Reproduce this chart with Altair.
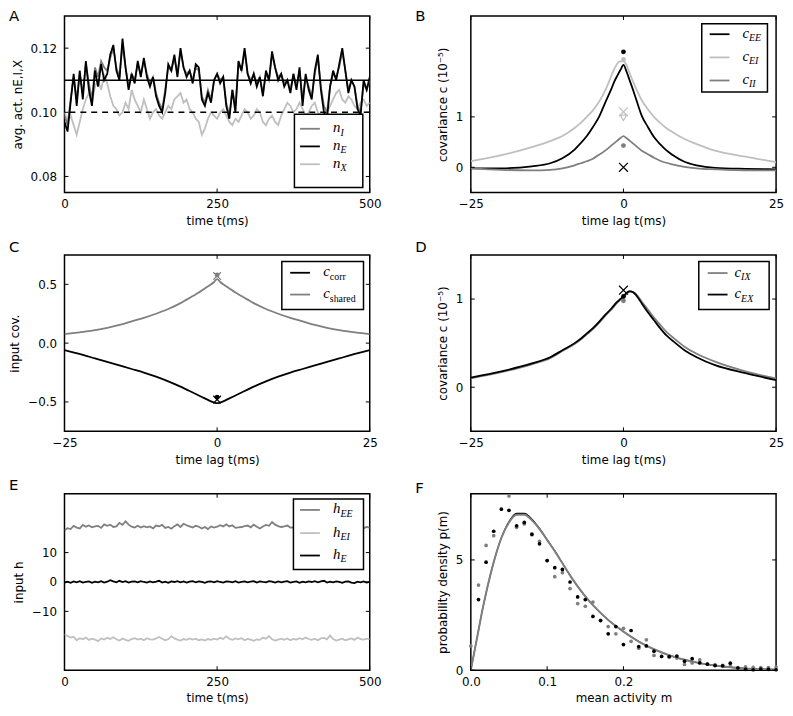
import altair as alt
import pandas as pd

# ---------------- data ----------------
# Panel A: average activities, sampled every 5 ms over 0..500 ms
A_nE = [0.097, 0.094, 0.103, 0.112, 0.102, 0.113, 0.104, 0.116, 0.107, 0.102,
        0.113, 0.108, 0.115, 0.110, 0.112, 0.118, 0.121, 0.113, 0.110, 0.123,
        0.114, 0.107, 0.112, 0.109, 0.116, 0.111, 0.117, 0.111, 0.108, 0.111,
        0.105, 0.102, 0.100, 0.106, 0.115, 0.113, 0.118, 0.111, 0.120, 0.114,
        0.111, 0.113, 0.109, 0.115, 0.114, 0.104, 0.102, 0.106, 0.103, 0.110,
        0.112, 0.109, 0.111, 0.102, 0.098, 0.107, 0.100, 0.116, 0.113, 0.120,
        0.112, 0.109, 0.112, 0.108, 0.111, 0.105, 0.113, 0.110, 0.119, 0.114,
        0.110, 0.112, 0.108, 0.110, 0.106, 0.112, 0.107, 0.114, 0.102, 0.112,
        0.107, 0.104, 0.113, 0.118, 0.107, 0.100, 0.098, 0.108, 0.113, 0.110,
        0.115, 0.120, 0.113, 0.106, 0.110, 0.108, 0.101, 0.099, 0.110, 0.107,
        0.111]
A_nI = [0.099, 0.096, 0.104, 0.111, 0.104, 0.112, 0.106, 0.115, 0.109, 0.104,
        0.114, 0.111, 0.116, 0.114, 0.113, 0.117, 0.120, 0.114, 0.111, 0.121,
        0.114, 0.108, 0.112, 0.110, 0.115, 0.112, 0.116, 0.112, 0.109, 0.111,
        0.106, 0.103, 0.101, 0.107, 0.114, 0.113, 0.117, 0.112, 0.119, 0.114,
        0.112, 0.113, 0.110, 0.114, 0.113, 0.105, 0.103, 0.107, 0.104, 0.110,
        0.112, 0.110, 0.111, 0.103, 0.099, 0.107, 0.102, 0.115, 0.113, 0.119,
        0.112, 0.110, 0.112, 0.109, 0.111, 0.106, 0.112, 0.110, 0.118, 0.114,
        0.111, 0.112, 0.109, 0.110, 0.107, 0.112, 0.108, 0.113, 0.104, 0.111,
        0.108, 0.105, 0.112, 0.117, 0.108, 0.102, 0.100, 0.108, 0.112, 0.111,
        0.114, 0.119, 0.113, 0.107, 0.110, 0.108, 0.102, 0.100, 0.109, 0.107,
        0.110]
A_nX = [0.100, 0.097, 0.099, 0.096, 0.093, 0.097, 0.101, 0.104, 0.106, 0.103,
        0.108, 0.110, 0.107, 0.112, 0.109, 0.105, 0.102, 0.101, 0.099, 0.100,
        0.103, 0.101, 0.107, 0.104, 0.102, 0.100, 0.104, 0.101, 0.098, 0.100,
        0.101, 0.099, 0.098, 0.100, 0.102, 0.101, 0.104, 0.105, 0.106, 0.103,
        0.104, 0.101, 0.100, 0.098, 0.097, 0.093, 0.095, 0.098, 0.100, 0.099,
        0.098, 0.100, 0.101, 0.099, 0.097, 0.096, 0.098, 0.097, 0.099, 0.101,
        0.100, 0.098, 0.099, 0.101, 0.100, 0.097, 0.096, 0.098, 0.099, 0.097,
        0.096, 0.099, 0.101, 0.103, 0.102, 0.100, 0.101, 0.103, 0.101, 0.099,
        0.100, 0.102, 0.103, 0.100, 0.099, 0.098, 0.100, 0.102, 0.104, 0.106,
        0.107, 0.104, 0.103, 0.105, 0.104, 0.102, 0.101, 0.103, 0.104, 0.102,
        0.103]
A_mean_E = [0.11]
A_mean_X = [0.10]

# Panel B: covariances vs time lag
B_lag = [-25, -20, -15, -12, -10, -8, -7, -6, -5, -4, -3, -2, -1.5, -1, -0.5, 0,
         0.5, 1, 1.5, 2, 3, 4, 5, 6, 7, 8, 10, 12, 15, 20, 25]
B_cEE = [-0.02, -0.02, 0.02, 0.08, 0.18, 0.35, 0.48, 0.62, 0.80, 1.00, 1.28, 1.55, 1.70, 1.82, 1.93, 2.03,
         1.90, 1.73, 1.56, 1.38, 1.02, 0.80, 0.60, 0.46, 0.34, 0.25, 0.11, 0.04, -0.01, -0.03, -0.04]
B_cEI = [0.12, 0.24, 0.40, 0.52, 0.62, 0.78, 0.88, 1.00, 1.13, 1.30, 1.52, 1.81, 1.95, 2.06, 2.10, 2.10,
         2.03, 1.87, 1.72, 1.58, 1.33, 1.15, 1.00, 0.88, 0.78, 0.70, 0.56, 0.46, 0.33, 0.21, 0.10]
B_cII = [-0.02, -0.05, -0.06, -0.05, -0.02, 0.04, 0.08, 0.12, 0.17, 0.25, 0.33, 0.43, 0.48, 0.53, 0.58, 0.62,
         0.58, 0.53, 0.48, 0.43, 0.33, 0.26, 0.19, 0.13, 0.09, 0.06, 0.01, -0.02, -0.04, -0.06, -0.06]
B_dot_EE, B_dot_EI, B_dot_II = [2.29], [2.14], [0.43]
B_cross_EE, B_cross_EI = [0.0], [1.1]
B_plus_EI = [0.98]

# Panel C: input covariances
C_lag = [-25, -22, -20, -18, -16, -14, -12, -10, -8, -6, -5, -4, -3, -2, -1, -0.5, 0,
         0.5, 1, 2, 3, 4, 5, 6, 8, 10, 12, 14, 16, 18, 20, 22, 25]
C_shared = [0.076, 0.095, 0.11, 0.13, 0.155, 0.185, 0.215, 0.25, 0.29, 0.34, 0.37, 0.40, 0.43, 0.465,
            0.50, 0.52, 0.545,
            0.52, 0.50, 0.465, 0.43, 0.40, 0.37, 0.34, 0.29, 0.25, 0.215, 0.185, 0.155, 0.13, 0.11,
            0.095, 0.076]
C_corr = [-0.06, -0.10, -0.13, -0.16, -0.19, -0.22, -0.25, -0.285, -0.325, -0.37, -0.395, -0.42,
          -0.445, -0.47, -0.495, -0.505, -0.51,
          -0.505, -0.495, -0.47, -0.445, -0.42, -0.395, -0.37, -0.325, -0.285, -0.25, -0.22, -0.19,
          -0.16, -0.13, -0.10, -0.06]
C_dot_shared, C_cross_shared = [0.58], [0.57]
C_dot_corr, C_cross_corr = [-0.46], [-0.48]

# Panel D: covariances with external input
D_lag = [-25, -20, -15, -12, -10, -8, -7, -6, -5, -4, -3, -2, -1, -0.5, 0,
         0.5, 1, 1.5, 2, 3, 4, 5, 6, 7, 8, 10, 12, 15, 20, 25]
D_cEX = [0.11, 0.18, 0.27, 0.34, 0.42, 0.50, 0.55, 0.61, 0.67, 0.74, 0.82, 0.89, 0.97, 1.00, 1.03,
         1.07, 1.09, 1.08, 1.05, 0.95, 0.85, 0.76, 0.67, 0.59, 0.53, 0.42, 0.34, 0.25, 0.16, 0.08]
D_cIX = [0.10, 0.17, 0.26, 0.33, 0.41, 0.49, 0.54, 0.60, 0.66, 0.73, 0.81, 0.88, 0.96, 0.99, 1.02,
         1.06, 1.08, 1.08, 1.06, 0.97, 0.88, 0.79, 0.71, 0.63, 0.57, 0.46, 0.38, 0.29, 0.18, 0.10]
D_cross_EX, D_dot_EX, D_dot_IX = [1.10], [1.03], [0.98]

# Panel E: inputs, sampled every 5 ms over 0..500 ms
E_hEE = [17.6, 18.3, 18.0, 19.1, 18.5, 18.2, 19.4, 18.8, 19.2, 18.6,
         18.9, 19.1, 18.4, 19.6, 19.1, 19.5, 18.7, 18.9, 20.1, 19.4,
         20.6, 19.5, 18.8, 18.5, 19.1, 18.5, 19.0, 18.6, 18.9, 18.2,
         19.2, 18.9, 19.4, 18.4, 18.7, 18.1, 19.0, 19.6, 18.7, 19.8,
         19.3, 18.9, 18.5, 19.1, 18.8, 18.2, 18.7, 18.0, 18.9, 18.5,
         18.8, 19.3, 18.9, 19.6, 18.9, 19.3, 18.4, 18.6, 18.7, 19.0,
         19.2, 18.6, 19.5, 18.8, 18.2, 18.9, 19.4, 19.1, 20.4, 19.5,
         19.0, 18.7, 18.9, 19.2, 18.5, 18.6, 18.3, 18.8, 19.0, 18.4,
         19.1, 18.9, 18.2, 18.7, 19.0, 18.5, 19.8, 19.2, 18.7, 19.1,
         18.5, 18.9, 18.6, 18.2, 18.8, 19.4, 18.7, 18.9, 18.3, 18.7,
         18.5]
E_hEI = [-17.8, -18.4, -18.9, -18.6, -19.8, -19.1, -19.5, -18.9, -19.7, -19.3,
         -19.6, -20.1, -19.2, -19.6, -19.0, -19.4, -18.8, -19.5, -19.9, -19.2,
         -19.7, -20.0, -19.4, -19.1, -19.6, -19.3, -19.8, -19.1, -19.5, -19.6,
         -19.2, -18.7, -19.3, -19.8, -19.5, -18.4, -19.2, -19.6, -19.9, -19.4,
         -19.7, -19.2, -19.6, -19.3, -19.8, -19.5, -19.9, -19.4, -19.7, -19.3,
         -19.6, -19.0, -19.4, -18.5, -19.3, -19.7, -19.2, -19.5, -19.1, -19.8,
         -19.4, -19.6, -20.0, -19.5, -19.7, -18.9, -19.3, -18.4, -19.5, -19.9,
         -19.6, -19.3, -19.7, -19.2, -19.8, -19.4, -19.6, -19.1, -19.5, -18.9,
         -19.4, -19.7, -19.3, -19.8, -19.2, -19.0, -19.5, -18.2, -19.4, -19.9,
         -19.6, -19.3, -19.8, -19.5, -19.2, -19.7, -18.9, -19.4, -19.6, -19.3,
         -19.5]
E_hE = [-0.2, 0.1, -0.3, 0.2, -0.1, 0.3, -0.2, 0.0, 0.2, -0.3,
        0.1, -0.1, 0.3, -0.2, 0.1, 0.6, 0.2, -0.1, 0.4, 0.0,
        0.3, -0.2, 0.1, 0.2, -0.1, 0.3, 0.0, -0.2, 0.2, -0.1,
        0.1, 0.4, -0.2, 0.1, -0.3, 0.2, 0.0, 0.3, -0.1, 0.2,
        -0.2, 0.1, 0.3, -0.1, 0.2, 0.0, -0.3, 0.1, 0.2, -0.1,
        0.3, 0.0, -0.2, 0.2, 0.1, -0.1, 0.3, -0.2, 0.0, 0.2,
        -0.1, 0.1, 0.3, -0.2, 0.2, 0.0, -0.1, 0.3, 0.1, -0.2,
        0.2, -0.1, 0.1, 0.3, -0.2, 0.0, 0.2, -0.3, 0.1, -0.1,
        0.2, 0.0, 0.3, -0.1, 0.2, 0.4, -0.2, 0.1, -0.1, 0.2,
        0.0, -0.3, 0.1, 0.2, -0.2, -0.4, 0.1, -0.1, 0.2, -0.2,
        0.0]

# Panel F: probability density of mean activity
F_m_curve = [0, 0.005, 0.01, 0.015, 0.02, 0.03, 0.04, 0.05, 0.06, 0.07, 0.08, 0.09, 0.10,
             0.11, 0.12, 0.13, 0.14, 0.15, 0.16, 0.17, 0.18, 0.19, 0.20, 0.22, 0.24, 0.26,
             0.28, 0.30, 0.32, 0.34, 0.36, 0.38, 0.40]
F_p_gray = [0, 0.9, 1.8, 2.7, 3.5, 4.9, 6.0, 6.7, 7.05, 7.05, 6.8, 6.4, 5.9,
            5.4, 4.85, 4.3, 3.8, 3.35, 2.95, 2.6, 2.28, 2.0, 1.75, 1.3, 0.95, 0.68,
            0.47, 0.32, 0.21, 0.13, 0.08, 0.05, 0.03]
F_p_black = [0, 0.9, 1.8, 2.7, 3.5, 4.9, 6.0, 6.74, 7.11, 7.11, 6.85, 6.43, 5.92,
             5.41, 4.86, 4.3, 3.8, 3.35, 2.95, 2.6, 2.28, 2.0, 1.75, 1.3, 0.95, 0.68,
             0.47, 0.32, 0.21, 0.13, 0.08, 0.05, 0.03]
F_m_pts = [0.00, 0.01, 0.02, 0.03, 0.04, 0.05, 0.06, 0.07, 0.08, 0.09, 0.10,
           0.11, 0.12, 0.13, 0.14, 0.15, 0.16, 0.17, 0.18, 0.19, 0.20,
           0.21, 0.22, 0.23, 0.24, 0.25, 0.26, 0.27, 0.28, 0.29, 0.30,
           0.31, 0.32, 0.33, 0.34, 0.35, 0.36, 0.37, 0.38, 0.39, 0.40]
F_pts_black = [None, 3.2, 4.9, 6.3, 7.3, 7.25, 6.55, 6.7, 6.17, 5.73, 4.97,
               4.65, 4.57, 4.0, 3.32, 3.2, 2.44, 2.25, 1.65, 1.98, 1.16,
               1.8, 1.07, 1.1, 0.86, 0.62, 0.62, 0.64, 0.41, 0.52, 0.33,
               0.27, 0.21, 0.2, 0.32, 0.1, 0.04, 0.02, 0.05, 0.04, 0.02]
F_pts_gray = [1.1, 3.86, 5.66, 6.1, None, 7.9, 6.48, 6.63, 6.14, 5.84, 4.97,
              4.24, 4.42, 3.7, 3.02, 2.9, 3.09, 2.26, 1.98, 1.65, 1.9,
              1.31, 1.0, 1.38, 0.67, 0.64, 0.59, 0.55, 0.26, 0.33, 0.47,
              0.3, 0.25, 0.22, 0.18, 0.12, 0.15, 0.13, 0.12, 0.12, 0.14]

# ---------------- styling helpers ----------------
W, H = 308, 178
FONT = "DejaVu Sans"
MATH = "Liberation Serif"
BLACK, GRAY, LIGHT = "#000000", "#7f7f7f", "#bfbfbf"
ONE = pd.DataFrame({"k": [0]})
XPATH = "M -1 -1 L 1 1 M -1 1 L 1 -1"
LW = 1.8


class Frame:
    def __init__(self, xdom, ydom, xticks, yticks, xtitle, ytitle, xfmt=None, yfmt=None):
        self.xdom, self.ydom = xdom, ydom
        self.xticks, self.yticks = xticks, yticks
        self.xtitle, self.ytitle = xtitle, ytitle
        self.xfmt, self.yfmt = xfmt, yfmt

    @staticmethod
    def _axis(values, title, fmt, pad):
        kw = dict(values=values, title=title, ticks=False, domain=False, grid=False,
                  labelFont=FONT, labelFontSize=12, labelColor="black", labelPadding=pad,
                  labelFlush=False, labelOverlap=False,
                  titleFont=FONT, titleFontSize=12, titleFontWeight="normal",
                  titleColor="black", titlePadding=6)
        if fmt:
            kw["format"] = fmt
        return alt.Axis(**kw)

    def x(self, field):
        return alt.X(f"{field}:Q", scale=alt.Scale(domain=self.xdom, nice=False, zero=False),
                     axis=self._axis(self.xticks, self.xtitle, self.xfmt, 6))

    def y(self, field):
        return alt.Y(f"{field}:Q", scale=alt.Scale(domain=self.ydom, nice=False, zero=False),
                     axis=self._axis(self.yticks, self.ytitle, self.yfmt, 8))

    def ticks(self):
        dx = pd.DataFrame({"tx": self.xticks})
        dy = pd.DataFrame({"ty": self.yticks})
        L = 4
        r = dict(color="black", strokeWidth=1)
        return [
            alt.Chart(dx).mark_rule(**r).encode(x=self.x("tx"), y=alt.value(0), y2=alt.value(L)),
            alt.Chart(dx).mark_rule(**r).encode(x=self.x("tx"), y=alt.value(H - L), y2=alt.value(H)),
            alt.Chart(dy).mark_rule(**r).encode(y=self.y("ty"), x=alt.value(0), x2=alt.value(L)),
            alt.Chart(dy).mark_rule(**r).encode(y=self.y("ty"), x=alt.value(W - L), x2=alt.value(W)),
        ]


def line(fr, xs, ys, color, width=LW, dash=None, smooth=False):
    df = pd.DataFrame({"xv": xs, "yv": ys})
    kw = dict(color=color, strokeWidth=width, clip=True)
    if dash:
        kw["strokeDash"] = dash
    if smooth:
        kw["interpolate"] = "monotone"
    return alt.Chart(df).mark_line(**kw).encode(x=fr.x("xv"), y=fr.y("yv"))


def dots(fr, xs, ys, color, size=24):
    df = pd.DataFrame({"xv": xs, "yv": ys}).dropna()
    return alt.Chart(df).mark_circle(color=color, size=size, opacity=1).encode(x=fr.x("xv"), y=fr.y("yv"))


def crosses(fr, xs, ys, color, shape=XPATH, size=80):
    df = pd.DataFrame({"xv": xs, "yv": ys})
    return alt.Chart(df).mark_point(shape=shape, size=size, filled=False, color=color,
                                    strokeWidth=1.2, opacity=1).encode(x=fr.x("xv"), y=fr.y("yv"))


def letter(txt, dy):
    return alt.Chart(ONE).mark_text(text=txt, font=FONT, fontSize=15, align="left",
                                    baseline="alphabetic", color="black").encode(
        x=alt.value(-56), y=alt.value(dy))


def legend(box, entries, line_x, text_x, main_w):
    x1, y1, x2, y2 = box
    out = [alt.Chart(ONE).mark_rect(fill="white", stroke="black", strokeWidth=1.5).encode(
        x=alt.value(x1), x2=alt.value(x2), y=alt.value(y1), y2=alt.value(y2))]
    for (yy, color, main, sub, sub_italic) in entries:
        out.append(alt.Chart(ONE).mark_rule(color=color, strokeWidth=LW).encode(
            x=alt.value(line_x[0]), x2=alt.value(line_x[1]), y=alt.value(yy)))
        out.append(alt.Chart(ONE).mark_text(text=main, font=MATH, fontStyle="italic", fontSize=15,
                                            align="left", baseline="alphabetic", color="black").encode(
            x=alt.value(text_x), y=alt.value(yy + 3.5)))
        out.append(alt.Chart(ONE).mark_text(text=sub, font=MATH,
                                            fontStyle="italic" if sub_italic else "normal",
                                            fontSize=10, align="left", baseline="alphabetic",
                                            color="black").encode(
            x=alt.value(text_x + main_w), y=alt.value(yy + 7)))
    return out


def panel(layers):
    return alt.layer(*layers).properties(width=W, height=H)


T_TITLE = "time t(ms)"
LAG_TITLE = "time lag t(ms)"
COV_TITLE = "covariance c  (10⁻⁵)"

nA = len(A_nE)
tA = [500 * i / (nA - 1) for i in range(nA)]
nE = len(E_hEE)
tE = [500 * i / (nE - 1) for i in range(nE)]

# ---------------- Panel A ----------------
fa = Frame([0, 500], [0.075, 0.13], [0, 250, 500], [0.08, 0.10, 0.12],
           T_TITLE, "avg. act. nE,I,X", yfmt=".2f")
pA = panel(
    [line(fa, tA, A_nX, LIGHT), line(fa, tA, A_nI, GRAY), line(fa, tA, A_nE, BLACK),
     alt.Chart(pd.DataFrame({"h": A_mean_E})).mark_rule(color="black", strokeWidth=1.5).encode(y=fa.y("h")),
     alt.Chart(pd.DataFrame({"h": A_mean_X})).mark_rule(color="black", strokeWidth=1.5,
                                                        strokeDash=[6, 5]).encode(y=fa.y("h"))]
    + fa.ticks()
    + legend((232, 99, 301, 173),
             [(113.7, GRAY, "n", "I", True), (131.5, BLACK, "n", "E", True),
              (149.5, LIGHT, "n", "X", True)], (237.7, 257.7), 271, 7.5)
    + [letter("A", 4.5)]
)

# ---------------- Panel B ----------------
fb = Frame([-25, 25], [-0.5, 3], [-25, 0, 25], [0, 1], LAG_TITLE, COV_TITLE)
pB = panel(
    [line(fb, B_lag, B_cEI, LIGHT, smooth=True), line(fb, B_lag, B_cEE, BLACK, smooth=True),
     line(fb, B_lag, B_cII, GRAY, smooth=True),
     dots(fb, [0], B_dot_EE, BLACK), dots(fb, [0], B_dot_EI, LIGHT), dots(fb, [0], B_dot_II, GRAY),
     crosses(fb, [0], B_cross_EE, BLACK), crosses(fb, [0], B_cross_EI, LIGHT),
     crosses(fb, [0], B_plus_EI, LIGHT, shape="triangle-down", size=40)]
    + fb.ticks()
    + legend((233, 7.7, 299.3, 76.7),
             [(18.3, BLACK, "c", "EE", True), (41.7, LIGHT, "c", "EI", True),
              (65, GRAY, "c", "II", True)], (241, 261), 274, 6.7)
    + [letter("B", 4.5)]
)

# ---------------- Panel C ----------------
fc = Frame([-25, 25], [-0.75, 0.75], [-25, 0, 25], [-0.5, 0.0, 0.5], LAG_TITLE, "input cov.",
           yfmt=".1f")
pC = panel(
    [line(fc, C_lag, C_shared, GRAY, smooth=True), line(fc, C_lag, C_corr, BLACK, smooth=True),
     dots(fc, [0], C_dot_shared, GRAY), crosses(fc, [0], C_cross_shared, GRAY, size=60),
     dots(fc, [0], C_dot_corr, BLACK), crosses(fc, [0], C_cross_corr, BLACK, size=60)]
    + fc.ticks()
    + legend((219.3, 6.7, 301.7, 55),
             [(18, BLACK, "c", "corr", False), (40, GRAY, "c", "shared", False)],
             (227.7, 247.7), 261, 6.7)
    + [letter("C", -3)]
)

# ---------------- Panel D ----------------
fd = Frame([-25, 25], [-0.5, 1.5], [-25, 0, 25], [0, 1], LAG_TITLE, COV_TITLE)
pD = panel(
    [line(fd, D_lag, D_cIX, GRAY, smooth=True), line(fd, D_lag, D_cEX, BLACK, smooth=True),
     dots(fd, [0], D_dot_IX, GRAY), dots(fd, [0], D_dot_EX, BLACK),
     crosses(fd, [0], D_cross_EX, BLACK)]
    + fd.ticks()
    + legend((230, 6.7, 301, 55),
             [(18.3, GRAY, "c", "IX", True), (40, BLACK, "c", "EX", True)],
             (239, 259), 266, 6.7)
    + [letter("D", -3)]
)

# ---------------- Panel E ----------------
fe = Frame([0, 500], [-30, 30], [0, 250, 500], [-10, 0, 10], T_TITLE, "input h")
pE = panel(
    [line(fe, tE, E_hEE, GRAY), line(fe, tE, E_hEI, LIGHT), line(fe, tE, E_hE, BLACK)]
    + fe.ticks()
    + legend((231, 5.3, 301.7, 76.3),
             [(16.3, GRAY, "h", "EE", True), (39.7, LIGHT, "h", "EI", True),
              (62.3, BLACK, "h", "E", True)], (237.7, 257.7), 271, 7.5)
    + [letter("E", -4)]
)

# ---------------- Panel F ----------------
ff = Frame([0, 0.4], [0, 8], [0.0, 0.1, 0.2], [0, 5], "mean activity m",
           "probability density p(m)", xfmt=".1f")
pF = panel(
    [line(ff, F_m_curve, F_p_black, BLACK, width=1.2, smooth=True),
     line(ff, F_m_curve, F_p_gray, GRAY, width=2.0, smooth=True),
     dots(ff, F_m_pts, F_pts_gray, GRAY, size=14), dots(ff, F_m_pts, F_pts_black, BLACK, size=14)]
    + ff.ticks()
    + [letter("F", -1)]
)

chart = alt.concat(pA, pB, pC, pD, pE, pF, columns=2).properties(
    spacing={"row": 63, "column": 102},
    bounds="flush",
    padding={"left": 0, "top": -4, "right": 0, "bottom": 0},
    background="white",
).configure_view(stroke="black", strokeWidth=1.5)

chart.save("out.html", embed_options={"renderer": "svg", "actions": False})
